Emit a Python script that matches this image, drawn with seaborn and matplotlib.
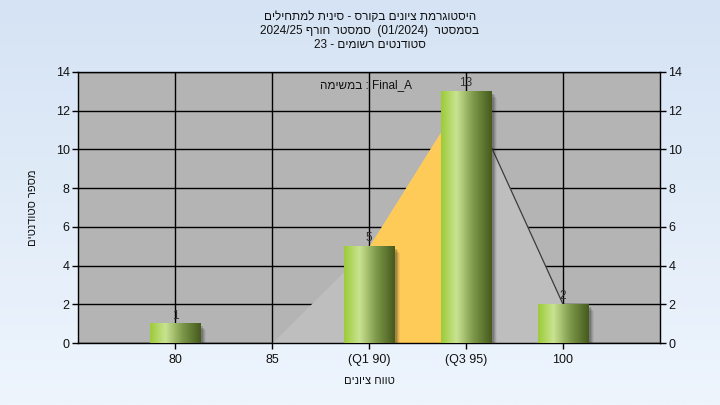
#!/usr/bin/env python3
"""
Grade histogram - recreated with seaborn / matplotlib
"""

import re
import numpy as np
import pandas as pd
import matplotlib
matplotlib.use('Agg')
import matplotlib.pyplot as plt
from matplotlib.colors import LinearSegmentedColormap
from matplotlib.patches import Rectangle
from matplotlib.ticker import FixedLocator
import seaborn as sns

# data
grade_bins = ['80', '85', '90', '95', '100']
tick_labels = ['80', '85', '(Q1 90)', '(Q3 95)', '100']
student_counts = [1, 0, 5, 13, 2]
q1_index = 2
q3_index = 3

title_lines = [
    'היסטוגרמת ציונים בקורס - סינית למתחילים',
    'בסמסטר  (01/2024)  סמסטר חורף 2024/25',
    'סטודנטים רשומים - 23',
]
task_label = 'במשימה : Final_A'
x_title = 'טווח ציונים'
y_title = 'מספר סטודנטים'

HEBREW = re.compile('[\u0590-\u05FF]')


def flip_word(w):
    return w[::-1] if HEBREW.search(w) else w


def rtl(text):
    """matplotlib has no bidi: lay out a right-to-left line by hand"""
    return ' '.join(flip_word(w) for w in reversed(text.split(' ')))


def ltr(text):
    """Hebrew words inside a left-to-right line: only the letters flip"""
    return ' '.join(flip_word(w) for w in text.split(' '))


sns.set_style('white')
plt.rcParams['font.family'] = ['Liberation Sans', 'DejaVu Sans']

fig = plt.figure(figsize=(7.2, 4.05), dpi=100)

# figure background: soft vertical blue gradient
bg_ax = fig.add_axes([0, 0, 1, 1], zorder=-10)
bg_cmap = LinearSegmentedColormap.from_list('bg', ['#d5e3f4', '#eef5fd'])
bg_ax.imshow(np.linspace(0, 1, 256).reshape(-1, 1), aspect='auto', cmap=bg_cmap,
             extent=[0, 1, 0, 1])
bg_ax.axis('off')

ax = fig.add_axes([78 / 720, 62 / 405, 582 / 720, 271 / 405])
ax.set_facecolor('#b4b4b4')

df = pd.DataFrame({'grade': grade_bins, 'count': student_counts})
sns.barplot(data=df, x='grade', y='count', order=grade_bins, width=0.52,
            color='#9bc93a', ax=ax, zorder=4)

xpos = np.arange(len(grade_bins))

# light grey area under the distribution line (from 85 onward)
ax.fill_between(xpos[1:], 0, np.array(student_counts[1:]), color='#bebebe',
                linewidth=0, zorder=2)
# interquartile range in orange
ax.fill_between(xpos[q1_index:q3_index + 1], 0,
                np.array(student_counts[q1_index:q3_index + 1]),
                color='#ffcb58', linewidth=0, zorder=2.5)
ax.plot(xpos[q3_index:], student_counts[q3_index:], color='#3c3c3c', lw=0.9, zorder=2.6)

# gradient bars with a soft shadow
bar_cmap = LinearSegmentedColormap.from_list(
    'bar', [(0, '#9ccb38'), (0.3, '#c9e391'), (0.65, '#7b9648'), (1, '#465a1c')])
grad = np.linspace(0, 1, 128).reshape(1, -1)
for patch in ax.patches:
    h = patch.get_height()
    if h <= 0:
        patch.set_visible(False)
        continue
    x0 = patch.get_x()
    w = patch.get_width()
    for k, a in zip(range(1, 6), [0.22, 0.18, 0.14, 0.1, 0.06]):
        ax.add_patch(Rectangle((x0 + 0.012 * k, -0.07 * k), w, h,
                               facecolor='#202020', alpha=a, lw=0, zorder=3,
                               clip_on=True))
    ax.imshow(grad, cmap=bar_cmap, aspect='auto', extent=[x0, x0 + w, 0, h],
              zorder=4, interpolation='bicubic')
    patch.set_visible(False)
    ax.text(x0 + w / 2, h + 0.1, str(student_counts[int(round(x0 + w / 2))]),
            ha='center', va='bottom', fontsize=8.5, color='#303030', zorder=6)

ax.set_xlim(-1, len(grade_bins))
ax.set_ylim(0, 14)
ax.set_yticks(np.arange(0, 15, 2))
ax.set_xticks(xpos)
ax.set_xticklabels(tick_labels)
ax.xaxis.set_minor_locator(FixedLocator([-1, len(grade_bins)]))

ax.grid(True, color='black', linewidth=1)
ax.set_axisbelow(True)
for s in ax.spines.values():
    s.set_color('black')
    s.set_linewidth(1)
    s.set_visible(True)

ax.tick_params(axis='both', which='both', direction='out', length=4, width=1,
               color='black', labelsize=9, labelcolor='#111111')
ax.tick_params(axis='y', left=True, right=True, labelleft=True, labelright=True, pad=2)
ax.tick_params(axis='x', bottom=True, pad=4)

ax.set_xlabel(rtl(x_title), fontsize=8, labelpad=7, color='#111111')
ax.set_ylabel(rtl(y_title), fontsize=8, labelpad=13, color='#111111')

ax.text(0.494, 0.953, ltr(task_label), transform=ax.transAxes, ha='center',
        va='center', fontsize=8.5, color='#111111', zorder=7)

fig.text(370 / 720, 1 - 31 / 405, '\n'.join(rtl(t) for t in title_lines),
         ha='center', va='center', fontsize=8.5, linespacing=1.17, color='#111111')

fig.savefig('out.png', dpi=100)
